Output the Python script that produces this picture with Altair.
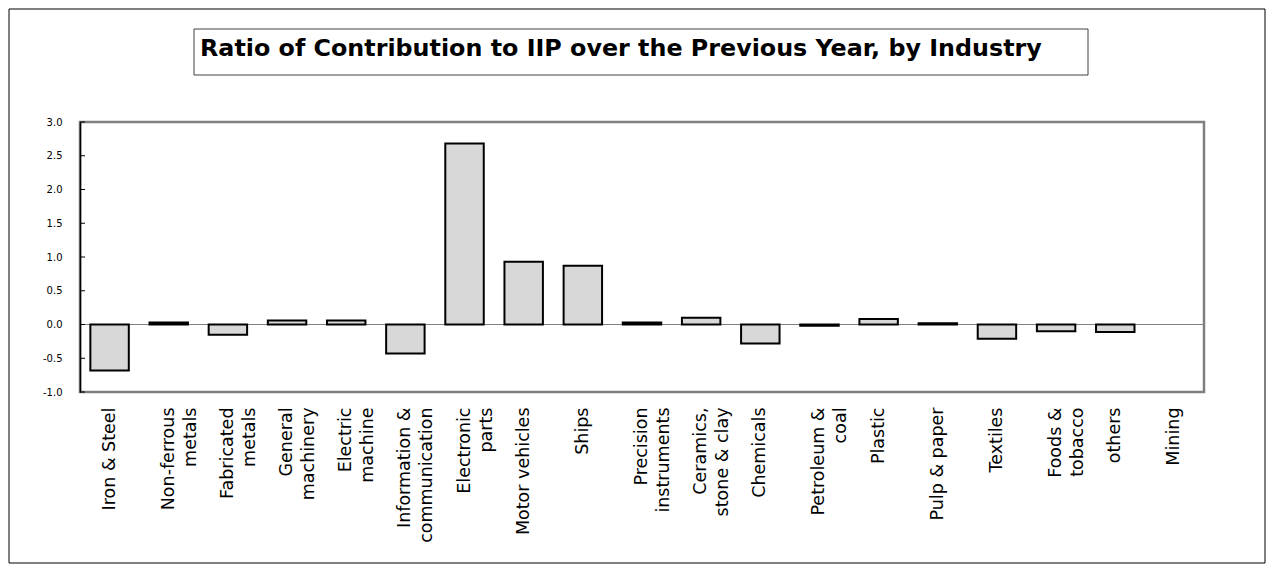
import altair as alt
import pandas as pd

industries = [
    "Iron & Steel", "Non-ferrous\nmetals", "Fabricated\nmetals", "General\nmachinery",
    "Electric\nmachine", "Information &\ncommunication", "Electronic\nparts",
    "Motor vehicles", "Ships", "Precision\ninstruments", "Ceramics,\nstone & clay",
    "Chemicals", "Petroleum &\ncoal", "Plastic", "Pulp & paper", "Textiles",
    "Foods &\ntobacco", "others", "Mining",
]
values = [-0.68, 0.03, -0.15, 0.06, 0.06, -0.43, 2.68, 0.93, 0.87, 0.03,
          0.10, -0.28, -0.02, 0.08, 0.02, -0.21, -0.10, -0.11, None]
y_ticks = [-1.0, -0.5, 0.0, 0.5, 1.0, 1.5, 2.0, 2.5, 3.0]
title_text = "Ratio of Contribution to IIP over the Previous Year, by Industry"

W, H = 1124, 270

df = pd.DataFrame({"industry": industries, "value": values})
ticks_df = pd.DataFrame({"value": y_ticks})
zero_df = pd.DataFrame({"value": [0.0]})
one = pd.DataFrame({"a": [0]})

xscale = alt.Scale(domain=industries, paddingInner=0.35, paddingOuter=0.175)
yscale = alt.Scale(domain=[-1, 3], nice=False, zero=False)

y_axis = alt.Axis(
    title=None, values=y_ticks,
    labelExpr="(datum.value < 0 ? '-' : '') + format(abs(datum.value), '.1f')",
    labelFont="DejaVu Sans", labelFontSize=10, labelColor="black",
    labelPadding=18, ticks=False, grid=False, labelOverlap=False,
    domain=True, domainColor="black", domainWidth=1.5,
)

frame = alt.Chart(one).mark_rect(fill="white", fillOpacity=0, stroke="black", strokeWidth=1).encode(
    x=alt.value(-71), x2=alt.value(1185), y=alt.value(-113), y2=alt.value(441)
)
title_box = alt.Chart(one).mark_rect(fill="white", fillOpacity=0, stroke="#404040", strokeWidth=1).encode(
    x=alt.value(114), x2=alt.value(1008), y=alt.value(-93), y2=alt.value(-47)
)
title = alt.Chart(one).mark_text(
    text=title_text, font="DejaVu Sans", fontSize=23.8, fontWeight="bold",
    align="left", baseline="alphabetic", color="black"
).encode(x=alt.value(120), y=alt.value(-66.5))

zero_rule = alt.Chart(zero_df).mark_rule(color="#808080", strokeWidth=1.2).encode(
    y=alt.Y("value:Q", scale=yscale, axis=y_axis)
)

bars = alt.Chart(df).mark_bar(fill="#d8d8d8", stroke="black", strokeWidth=2).encode(
    x=alt.X(
        "industry:N", scale=xscale, sort=industries,
        axis=alt.Axis(
            title=None, labelAngle=270, labelExpr="split(datum.value, '\\n')",
            labelFont="DejaVu Sans", labelFontSize=17.5, labelColor="black",
            labelBaseline="middle", labelAlign="right", labelOffset=0,
            labelPadding=15, labelLineHeight=22, ticks=False,
            domain=False, labelOverlap=False, labelLimit=400,
        ),
    ),
    y=alt.Y("value:Q", scale=yscale, axis=y_axis),
)

ticks = alt.Chart(ticks_df).mark_rule(color="black", strokeWidth=1).encode(
    y=alt.Y("value:Q", scale=yscale, axis=y_axis), x=alt.value(0), x2=alt.value(5)
)

chart = alt.layer(frame, title_box, title, zero_rule, bars, ticks).properties(
    width=W, height=H, padding=0, background="white"
).configure_view(stroke="#7f7f7f", strokeWidth=2.5)

chart.save("out.html", embed_options={"renderer": "svg", "actions": False})
